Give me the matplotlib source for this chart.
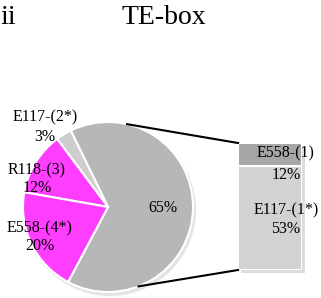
import numpy as np
import matplotlib
matplotlib.use("Agg")
import matplotlib.pyplot as plt
from matplotlib.patches import Rectangle, Circle

plt.rcParams['font.family'] = ['Liberation Serif', 'DejaVu Serif']

# ---- data ----
pie_labels = ["65%", "E117-(2*)", "R118-(3)", "E558-(4*)"]
pie_values = [65, 3, 12, 20]
pie_colors = ["#b7b7b7", "#cdcdcd", "#ff3dff", "#ff3dff"]

box_labels = ["E117-(1*)", "E558-(1)"]
box_values = [53, 12]
box_colors = ["#d2d2d2", "#a6a6a6"]

title = "TE-box"
panel = "ii"

W, H = 321, 298
fig = plt.figure(figsize=(W / 100, H / 100), dpi=100)

# box (stacked bar)
bx0, bx1, by_top, by_bot = 238, 302, 143, 270
# shadow
fig.patches.append(Rectangle(((bx0 + 3) / W, (H - by_bot - 3) / H), (bx1 - bx0) / W, (by_bot - by_top) / H,
                             transform=fig.transFigure, facecolor="#dcdcdc", edgecolor="none", zorder=0))
bax = fig.add_axes([bx0 / W, (H - by_bot) / H, (bx1 - bx0) / W, (by_bot - by_top) / H])
bax.set_zorder(1)
bottom = 0
for v, c in zip(box_values, box_colors):
    bax.bar(0, v, bottom=bottom, width=1, color=c, edgecolor="white", linewidth=1.5)
    bottom += v
bax.set_xlim(-0.5, 0.5)
bax.set_ylim(0, sum(box_values))
bax.axis('off')

ax = fig.add_axes([0, 0, 1, 1])
ax.set_zorder(2)
ax.patch.set_visible(False)

cx, cy, r = 108, H - 207, 85
start = -118
# soft shadow for pie
ax.add_patch(Circle((cx + 2, cy - 3), r + 1, facecolor="#e4e4e4", edgecolor="none", zorder=0))
wedges, _ = ax.pie(pie_values, colors=pie_colors, startangle=start, counterclock=True,
                   center=(cx, cy), radius=r, frame=True,
                   wedgeprops=dict(edgecolor="white", linewidth=1.5))
ax.set_xlim(0, W)
ax.set_ylim(0, H)
ax.set_aspect('auto')
ax.axis('off')

# labels for pie slices
tot = sum(pie_values)
fs = 11.5
ax.text(163, H - 208, "65%", fontsize=fs, ha='center', va='center')
outer = [(1, 45, 117, 137), (2, 37, 170, 188), (3, 40, 228, 246)]
for i, x, y1, y2 in outer:
    ax.text(x, H - y1, pie_labels[i], fontsize=fs, ha='center', va='center')
    ax.text(x, H - y2, f"{round(100 * pie_values[i] / tot)}%", fontsize=fs, ha='center', va='center')

# box texts
tx = 286
ax.text(tx, H - 153, box_labels[1], fontsize=fs, ha='center', va='center')
ax.text(tx, H - 175, f"{box_values[1]}%", fontsize=fs, ha='center', va='center')
ax.text(tx, H - 210, box_labels[0], fontsize=fs, ha='center', va='center')
ax.text(tx, H - 229, f"{box_values[0]}%", fontsize=fs, ha='center', va='center')

# connector lines
a1, a2 = np.deg2rad(77), np.deg2rad(-69)
ax.plot([cx + r * np.cos(a1), bx0], [cy + r * np.sin(a1), H - by_top], color='black', lw=1.5)
ax.plot([cx + r * np.cos(a2), bx0], [cy + r * np.sin(a2), H - by_bot], color='black', lw=1.5)

fig.text(164 / W, 1 - 17 / H, title, fontsize=20, ha='center', va='center')
fig.text(0, 1 - 17 / H, panel, fontsize=20, ha='left', va='center')

fig.savefig("out.png", dpi=100)
